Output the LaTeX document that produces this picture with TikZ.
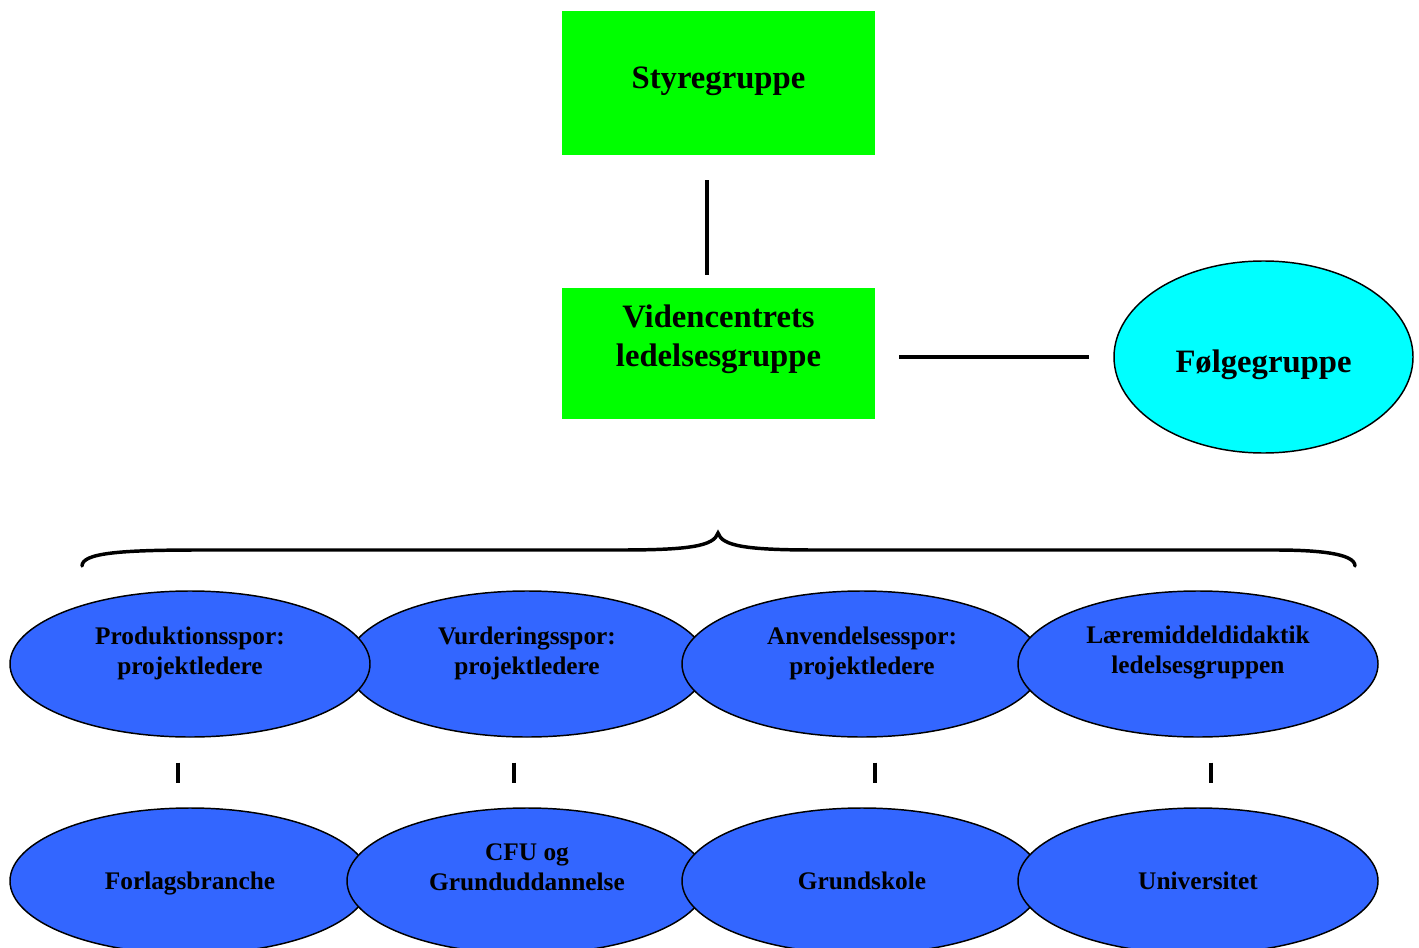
\documentclass[tikz,border=0pt]{standalone}
\usepackage{fontspec}
\setmainfont{Liberation Serif}
\usetikzlibrary{shapes.geometric}
\definecolor{boxgreen}{HTML}{00FF00}
\definecolor{folcyan}{HTML}{00FFFF}
\definecolor{ellblue}{HTML}{3366FF}
\tikzset{
  greenbox/.style={rectangle, fill=boxgreen, inner sep=0pt, minimum width=234.75pt},
  blueell/.style={ellipse, draw=black, line width=1.1pt, fill=ellblue, inner sep=0pt, minimum width=270pt, minimum height=109.5pt},
  bigtxt/.style={font=\bfseries\fontsize{24.5pt}{29pt}\selectfont, align=center, text=black},
  smalltxt/.style={font=\bfseries\fontsize{19pt}{22.5pt}\selectfont, align=center, text=black},
  conn/.style={line width=2.8pt, draw=black},
}
\begin{document}
\begin{tikzpicture}[x=0.75pt, y=-0.75pt]
\useasboundingbox (0,0) rectangle (1419,948);
% top boxes
\node[greenbox, minimum height=108pt, label={[bigtxt, yshift=1.5pt]center:Styregruppe}] (sty) at (718.5,83) {};
\node[greenbox, minimum height=98.25pt, label={[bigtxt, yshift=10.5pt]center:Videncentrets\\ledelsesgruppe}] (vid) at (718.5,353.5) {};
\node[ellipse, draw=black, line width=1.1pt, fill=folcyan, inner sep=0pt, minimum width=224.25pt, minimum height=144pt, label={[bigtxt, yshift=-5.5pt]center:Følgegruppe}] (fol) at (1263.5,357) {};
\draw[conn, shorten <=18.75pt, shorten >=9.75pt] ([xshift=-8.6pt]sty.south) -- ([xshift=-8.6pt]vid.north);
\draw[conn, shorten <=18pt, shorten >=18pt] (vid.east |- fol.west) -- (fol.west);
% brace
\coordinate (bl) at (82,566);
\coordinate (btip) at (718,533);
\coordinate (br) at (1355,566);
\draw[line width=2.6pt, line cap=round] (bl) .. controls (82,553) and (120,550) .. (200,550) -- (620,550) .. controls (690,550) and (714,546) .. (btip) .. controls (722,546) and (746,550) .. (816,550) -- (1275,550) .. controls (1315,550) and (1355,553) .. (br);
% top ellipses
\node[blueell, label={[smalltxt, yshift=8.25pt]center:Vurderingsspor:\\projektledere}] (p2) at (527,664) {};
\node[blueell, label={[smalltxt, yshift=8.25pt]center:Produktionsspor:\\projektledere}] (p1) at (190,664) {};
\node[blueell, label={[smalltxt, yshift=8.25pt]center:Anvendelsesspor:\\projektledere}] (p3) at (862,664) {};
\node[blueell, label={[smalltxt, yshift=8.25pt]center:Læremiddeldidaktik\\ledelsesgruppen}] (p4) at (1198,664) {};
% bottom ellipses
\node[blueell, label={[smalltxt, yshift=-1.5pt]center:Forlagsbranche}] (b1) at (190,881) {};
\node[blueell, label={[smalltxt, yshift=10pt]center:CFU og\\Grunduddannelse}] (b2) at (527,881) {};
\node[blueell, label={[smalltxt]center:Grundskole}] (b3) at (862,881) {};
\node[blueell, label={[smalltxt]center:Universitet}] (b4) at (1198,881) {};
% short connectors
\draw[conn, shorten <=18.75pt, shorten >=18pt] ([xshift=-9pt]p1.south) -- ([xshift=-9pt]b1.north);
\draw[conn, shorten <=18.75pt, shorten >=18pt] ([xshift=-9.75pt]p2.south) -- ([xshift=-9.75pt]b2.north);
\draw[conn, shorten <=18.75pt, shorten >=18pt] ([xshift=9.75pt]p3.south) -- ([xshift=9.75pt]b3.north);
\draw[conn, shorten <=18.75pt, shorten >=18pt] ([xshift=9.75pt]p4.south) -- ([xshift=9.75pt]b4.north);
\end{tikzpicture}
\end{document}
